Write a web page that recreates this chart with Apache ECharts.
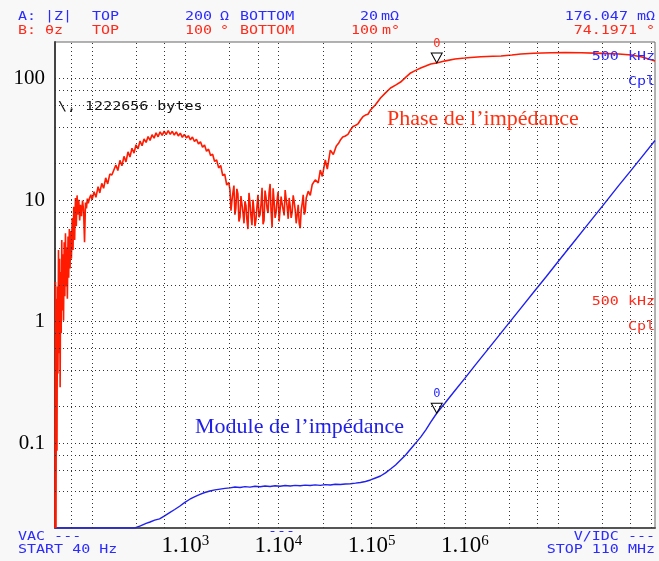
<!DOCTYPE html>
<html>
<head>
<meta charset="utf-8">
<script src="https://cdn.jsdelivr.net/npm/echarts/dist/echarts.min.js"></script>
<style>
  html, body { margin: 0; padding: 0; background: #f8f8f8; }
  #chart { width: 659px; height: 561px; }
</style>
</head>
<body>
<div id="chart"></div>
<script>
// Sweep limits (Hz) and display ranges of the two traces
const freqStart = 40;
const freqStop = 110e6;
const zTop = 200, zBottom = 0.02;        // |Z| in ohms
const phaseTop = 100, phaseBottom = 0.1; // theta in degrees

// Marker 0 at 500 kHz
const markerFreq = 500000;
const markerZ = 0.176047;
const markerPhase = 74.1971;

// Tick labels
const xTickExponents = [3, 4, 5, 6];
const yTickValues = [0.1, 1, 10, 100];
const yTickLabels = ['0.1', '1', '10', '100'];

// Dotted graticule positions
const xGridFreqs = [60, 100, 300, 600, 1e3, 3e3, 6e3, 1e4, 3e4, 6e4, 1e5, 3e5, 6e5,
                    1e6, 3e6, 6e6, 1e7, 3e7, 6e7, 1e8];
const yGridOhms = [0.04, 0.06, 0.08, 0.1, 0.2, 0.4, 0.6, 0.8, 1, 2, 4, 6, 8, 10,
                   20, 40, 60, 80, 100];

// Trace B: phase of the impedance (degrees)
const phaseFreq = [
  40, 40.5, 41, 41.5, 42, 42.5, 43, 43.6, 44.2, 44.8, 45.4, 46, 46.6, 47.3, 48, 48.7,
  49.4, 50.2, 51, 51.8, 52.6, 53.4, 54.3, 55.2, 56.1, 57, 58, 59, 60, 61.2, 62.4, 63.6,
  65, 66.3, 67.7, 69, 70.5, 72, 73.6, 75, 77, 79, 81, 83, 85, 87, 89, 91, 94, 97,
  100, 105, 110, 116, 121, 127, 133, 140, 147, 155, 163, 171, 180, 189, 199, 209,
  220, 231, 243, 255, 268, 282, 296, 311, 327, 344, 361, 380, 399, 419, 440, 463,
  486, 511, 537, 565, 594, 624, 656, 690, 725, 762, 801, 842, 885, 930, 978, 1028,
  1080, 1136, 1194, 1255, 1319, 1386, 1457, 1532, 1610, 1692, 1779, 1870, 1966, 2066,
  2172, 2283, 2400, 2523, 2652, 2787, 2930,
  3020, 3095, 3170, 3250, 3330, 3410, 3490, 3580, 3670, 3770, 3870, 3960, 4060, 4160,
  4270, 4370, 4480, 4590, 4710, 4830, 4950, 5070, 5200, 5330, 5470, 5600, 5740, 5880,
  6030, 6190, 6350, 6510, 6670, 6840, 7010, 7180, 7360, 7550, 7740, 7940, 8140, 8340,
  8550, 8770, 8990, 9210, 9440, 9680, 9920, 10170, 10430, 10690, 10960, 11240, 11520,
  11810, 12110, 12410, 12720, 13040, 13360, 13700, 14040, 14400, 14760, 15130, 15510,
  15900, 16300, 16710, 17130, 17560, 18000, 18450, 18920, 19390, 19880,
  20890, 21950, 23070, 24840, 26740, 28130, 29560, 31840, 33460, 36040, 38800, 41800,
  44000, 46190, 49000, 52290, 55700, 59190, 63000, 67010, 71300, 75860, 80700, 85880,
  91400, 97220, 110000, 124600, 141000, 159700, 180800, 204700, 231700, 262300,
  297000, 336100, 380500, 430800, 500000, 620000, 785000, 1000000, 1160000, 1490000,
  2000000, 2450000, 3200000, 4000000, 5500000, 8450000, 12000000, 17800000, 29200000,
  45000000, 61500000, 80000000, 110000000
];
const phaseDeg = [
  0.1, 3.3, 0.1, 2.6, 0.3, 3.1, 0.9, 5.2, 1.2, 4.6, 0.74, 3.8, 1.6, 6.0, 2.2, 4.9,
  1.9, 5.8, 2.7, 6.6, 3.1, 5.4, 2.6, 6.3, 3.5, 7.0, 4.0, 6.8, 4.6, 8.2, 5.2, 9.6,
  6.0, 10.9, 7.3, 11.3, 8.6, 10.6, 7.9, 9.9, 8.4, 10.5, 9.2, 5.8, 10.2, 9.4, 10.8, 10.1, 10.9, 11.4,
  10.6, 11.9, 11.0, 12.8, 11.7, 13.4, 12.5, 14.5, 13.3, 15.3, 15.1, 15.4, 17.4, 16.1, 18.6, 17.2,
  19.7, 18.2, 21.0, 19.5, 22.1, 20.6, 23.2, 21.9, 24.5, 22.9, 25.2, 24.0, 26.1, 24.7, 26.8, 25.5,
  27.5, 26.0, 27.9, 26.5, 28.2, 26.8, 28.4, 26.9, 28.1, 26.6, 27.9, 26.3, 27.4, 25.8, 26.9, 25.6,
  26.4, 24.9, 25.9, 24.3, 25.1, 23.5, 24.2, 22.4, 23.1, 21.2, 21.8, 19.9, 20.3, 18.3,
  18.7, 16.7, 17.3, 15.0, 15.3, 13.1, 13.6,
  12.2, 9.1, 10.5, 11.8, 13.0, 8.6, 9.4, 12.4, 11.6, 7.8, 8.3, 11.2, 10.9, 8.9,
  7.6, 10.4, 9.8, 8.0, 7.0, 11.7, 10.2, 8.4, 7.4, 10.6, 9.1, 7.3, 8.0, 9.6,
  11.4, 8.3, 8.6, 10.0, 12.6, 7.5, 7.9, 12.1, 11.0, 9.4, 8.8, 11.8, 13.3, 9.0,
  7.2, 12.5, 10.4, 8.2, 8.9, 10.6, 11.9, 7.8, 9.3, 11.1, 10.0, 9.2, 8.5,
  12.2, 10.7, 9.6, 8.1, 10.9, 9.7, 8.2, 8.9, 11.3, 10.3, 9.2, 7.6,
  8.6, 9.9, 7.6, 7.1, 9.2, 10.1, 11.4, 8.6, 9.0, 10.9,
  12.0, 11.3, 13.2, 14.1, 13.5, 16.2, 14.8, 18.7, 16.4, 21.5, 20.2, 22.8,
  23.6, 24.8, 25.9, 26.3, 26.9, 28.6, 30.1, 30.5, 31.2, 33.0, 34.6, 35.4,
  35.8, 38.0, 41.0, 45.1, 48.5, 52.0, 54.2, 56.6, 60.5, 64.4,
  66.8, 69.1, 71.0, 73.1, 74.1971, 76.5, 78.5, 79.6, 80.3, 81.0,
  81.6, 82.0, 83.2, 84.3, 85.2, 85.9, 86.1, 85.9, 85.1,
  84.3, 83.1, 80.8, 76.3
];

// Trace A: modulus of the impedance (ohms)
const zFreq = [
  40, 150, 288, 330, 380, 419, 470, 530, 600, 680, 770, 870, 990, 1120, 1270, 1440,
  1620, 1840, 2080, 2360, 2670, 3020, 3420, 3870, 4380, 4950, 5610, 6350, 7190, 8140,
  9210, 10400, 11800, 13400, 15100, 17100, 19400, 21900, 24800, 28100, 31800, 36000,
  40800, 46200, 52300, 59200, 67000, 75900, 85900, 97200, 110000, 124600, 141000,
  159700, 180800, 204700, 231700, 262300, 297000, 336100, 380500, 430800, 500000,
  620000, 785000, 1000000, 1300000, 1700000, 2300000, 3000000, 4000000, 5500000,
  7500000, 10000000, 15000000, 20000000, 30000000, 45000000, 60000000, 80000000, 110000000
];
const zOhm = [
  0.02, 0.02, 0.02, 0.0208, 0.0218, 0.0224, 0.0232, 0.0238, 0.0252, 0.0268, 0.0284, 0.0302, 0.0325, 0.0345, 0.0362, 0.0378,
  0.0392, 0.0403, 0.0412, 0.0418, 0.0424, 0.0428, 0.0435, 0.0431, 0.0438, 0.0434, 0.0441, 0.0437, 0.0443, 0.0439,
  0.0445, 0.0441, 0.0447, 0.0443, 0.0449, 0.0445, 0.0451, 0.0447, 0.0453, 0.0449, 0.0455, 0.0452,
  0.0458, 0.0456, 0.0461, 0.0463, 0.0468, 0.0474, 0.0483, 0.0497, 0.0516, 0.0536, 0.0568,
  0.0612, 0.0661, 0.0726, 0.0798, 0.0894, 0.100, 0.112, 0.128, 0.149, 0.176047,
  0.216, 0.271, 0.341, 0.440, 0.568, 0.759, 0.981, 1.29, 1.75,
  2.35, 3.11, 4.58, 6.05, 8.92, 13.2, 17.3, 22.8, 30.9
];

const BLUE = '#2b2bff';
const RED = '#ff2a1a';
const TRACE_BLUE = '#2020f0';
const TRACE_RED = '#ff1a00';
const MONO = '"DejaVu Sans Mono", monospace';
const SERIF = '"Liberation Serif", "Times New Roman", serif';

const pairs = (xs, ys) => xs.map((x, i) => [x, ys[i]]);

function fmtOhm(v) {
  return v < 1 ? +(v * 1000).toFixed(3) + ' m\u03a9' : v + ' \u03a9';
}
function fmtDeg(v) {
  return v < 1 ? +(v * 1000).toFixed(3) + ' m\u00b0' : v + ' \u00b0';
}
function fmtHz(v) {
  if (v >= 1e6) return +(v / 1e6).toFixed(3) + ' MHz';
  if (v >= 1e3) return +(v / 1e3).toFixed(3) + ' kHz';
  return v + ' Hz';
}

// Instrument-style annotation text (wide pixel font)
function mono(text, x, y, color, align) {
  return {
    type: 'text', x: x, y: y, scaleX: 1.25, z: 50,
    style: {
      text: text, fill: color, font: '12px ' + MONO,
      textAlign: align || 'left', textVerticalAlign: 'middle'
    }
  };
}

const zTopParts = fmtOhm(zTop).split(' ');
const zBotParts = fmtOhm(zBottom).split(' ');
const pTopParts = fmtDeg(phaseTop).split(' ');
const pBotParts = fmtDeg(phaseBottom).split(' ');

const graphics = [
  mono('A:', 18, 17, BLUE), mono('|Z|', 45, 17, BLUE), mono('TOP', 92, 17, BLUE),
  mono(zTopParts[0], 185, 17, BLUE), mono(zTopParts[1], 220, 17, BLUE),
  mono('BOTTOM', 240, 17, BLUE), mono(zBotParts[0], 360, 17, BLUE), mono(zBotParts[1], 381, 17, BLUE),
  mono(fmtOhm(markerZ), 655, 17, BLUE, 'right'),

  mono('B:', 18, 31, RED), mono('\u03b8z', 45, 31, RED), mono('TOP', 92, 31, RED),
  mono(pTopParts[0], 185, 31, RED), mono(pTopParts[1], 220, 31, RED),
  mono('BOTTOM', 240, 31, RED), mono(pBotParts[0], 351, 31, RED), mono(pBotParts[1], 382, 31, RED),
  mono(markerPhase + ' \u00b0', 655, 31, RED, 'right'),

  mono(fmtHz(markerFreq), 655, 57, BLUE, 'right'), mono('Cpl', 655, 82, BLUE, 'right'),
  mono(fmtHz(markerFreq), 655, 302, RED, 'right'), mono('Cpl', 655, 327, RED, 'right'),

  mono('\\, 1222656 bytes', 58, 107, '#111'),

  mono('VAC ---', 18, 537, BLUE), mono('START ' + fmtHz(freqStart), 18, 550, BLUE),
  mono('V/IDC ---', 655, 537, BLUE, 'right'), mono('STOP ' + fmtHz(freqStop), 655, 550, BLUE, 'right'),
  mono('---', 268, 532, BLUE),

  {
    type: 'text', x: 387, y: 119.5, z: 50,
    style: { text: 'Phase de l\u2019imp\u00e9dance', fill: '#ff3010', font: '22px ' + SERIF,
             textAlign: 'left', textVerticalAlign: 'middle' }
  },
  {
    type: 'text', x: 195, y: 427.5, z: 50,
    style: { text: 'Module de l\u2019imp\u00e9dance', fill: '#2020e8', font: '22px ' + SERIF,
             textAlign: 'left', textVerticalAlign: 'middle' }
  }
];

function markerPoint(coord, color) {
  return {
    silent: true,
    symbol: 'path://M0,0 L10,0 L5,10 Z',
    symbolSize: [11, 10],
    symbolOffset: [0, -5],
    itemStyle: { color: 'rgba(0,0,0,0)', borderColor: '#000', borderWidth: 1 },
    label: { show: true, position: 'top', distance: 3, formatter: '0',
             color: color, fontFamily: MONO, fontSize: 12 },
    data: [{ coord: coord }]
  };
}

const chart = echarts.init(document.getElementById('chart'));
chart.setOption({
  backgroundColor: '#f8f8f8',
  animation: false,
  grid: {
    left: 55, top: 42, width: 600, height: 486,
    show: true, backgroundColor: '#ffffff', borderColor: '#666', borderWidth: 1
  },
  xAxis: {
    type: 'log', min: freqStart, max: freqStop, splitNumber: 7,
    axisLine: { show: true, onZero: false, lineStyle: { color: '#555', width: 2 } },
    axisTick: { show: false },
    splitLine: { show: false },
    axisLabel: {
      margin: 6,
      showMinLabel: false, showMaxLabel: false,
      formatter: function (v) {
        const l = Math.log10(v);
        const e = Math.round(l);
        if (Math.abs(l - e) > 1e-6 || xTickExponents.indexOf(e) < 0) return '';
        return '{b|1.10}{s|' + e + '}';
      },
      rich: {
        b: { fontFamily: SERIF, fontSize: 23, color: '#000' },
        s: { fontFamily: SERIF, fontSize: 15, color: '#000', verticalAlign: 'top' }
      }
    }
  },
  yAxis: [
    {
      type: 'log', min: zBottom, max: zTop,
      axisLine: { show: true, lineStyle: { color: '#444', width: 2 } },
      axisTick: { show: false },
      splitLine: { show: false },
      axisLabel: {
        margin: 10, color: '#000', fontFamily: SERIF, fontSize: 21,
        formatter: function (v) {
          for (let i = 0; i < yTickValues.length; i++) {
            if (Math.abs(Math.log10(v) - Math.log10(yTickValues[i])) < 1e-6) return yTickLabels[i];
          }
          return '';
        }
      }
    },
    { type: 'log', min: phaseBottom, max: phaseTop, show: false }
  ],
  graphic: graphics,
  series: [
    {
      name: 'graticule', type: 'line', data: [], z: 1, silent: true,
      markLine: {
        silent: true, symbol: ['none', 'none'], animation: false,
        label: { show: false },
        lineStyle: { type: [1, 3], color: '#333', width: 1 },
        data: xGridFreqs.map(f => ({ xAxis: f })).concat(yGridOhms.map(v => ({ yAxis: v })))
      }
    },
    {
      name: '|Z|', type: 'line', yAxisIndex: 0, z: 3,
      data: pairs(zFreq, zOhm), showSymbol: false, silent: true,
      lineStyle: { color: TRACE_BLUE, width: 1.4 },
      markPoint: markerPoint([markerFreq, markerZ], BLUE)
    },
    {
      name: 'theta', type: 'line', yAxisIndex: 1, z: 4,
      data: pairs(phaseFreq, phaseDeg), showSymbol: false, silent: true,
      lineStyle: { color: TRACE_RED, width: 1.6 },
      markPoint: markerPoint([markerFreq, markerPhase], RED)
    }
  ]
});
</script>
</body>
</html>
